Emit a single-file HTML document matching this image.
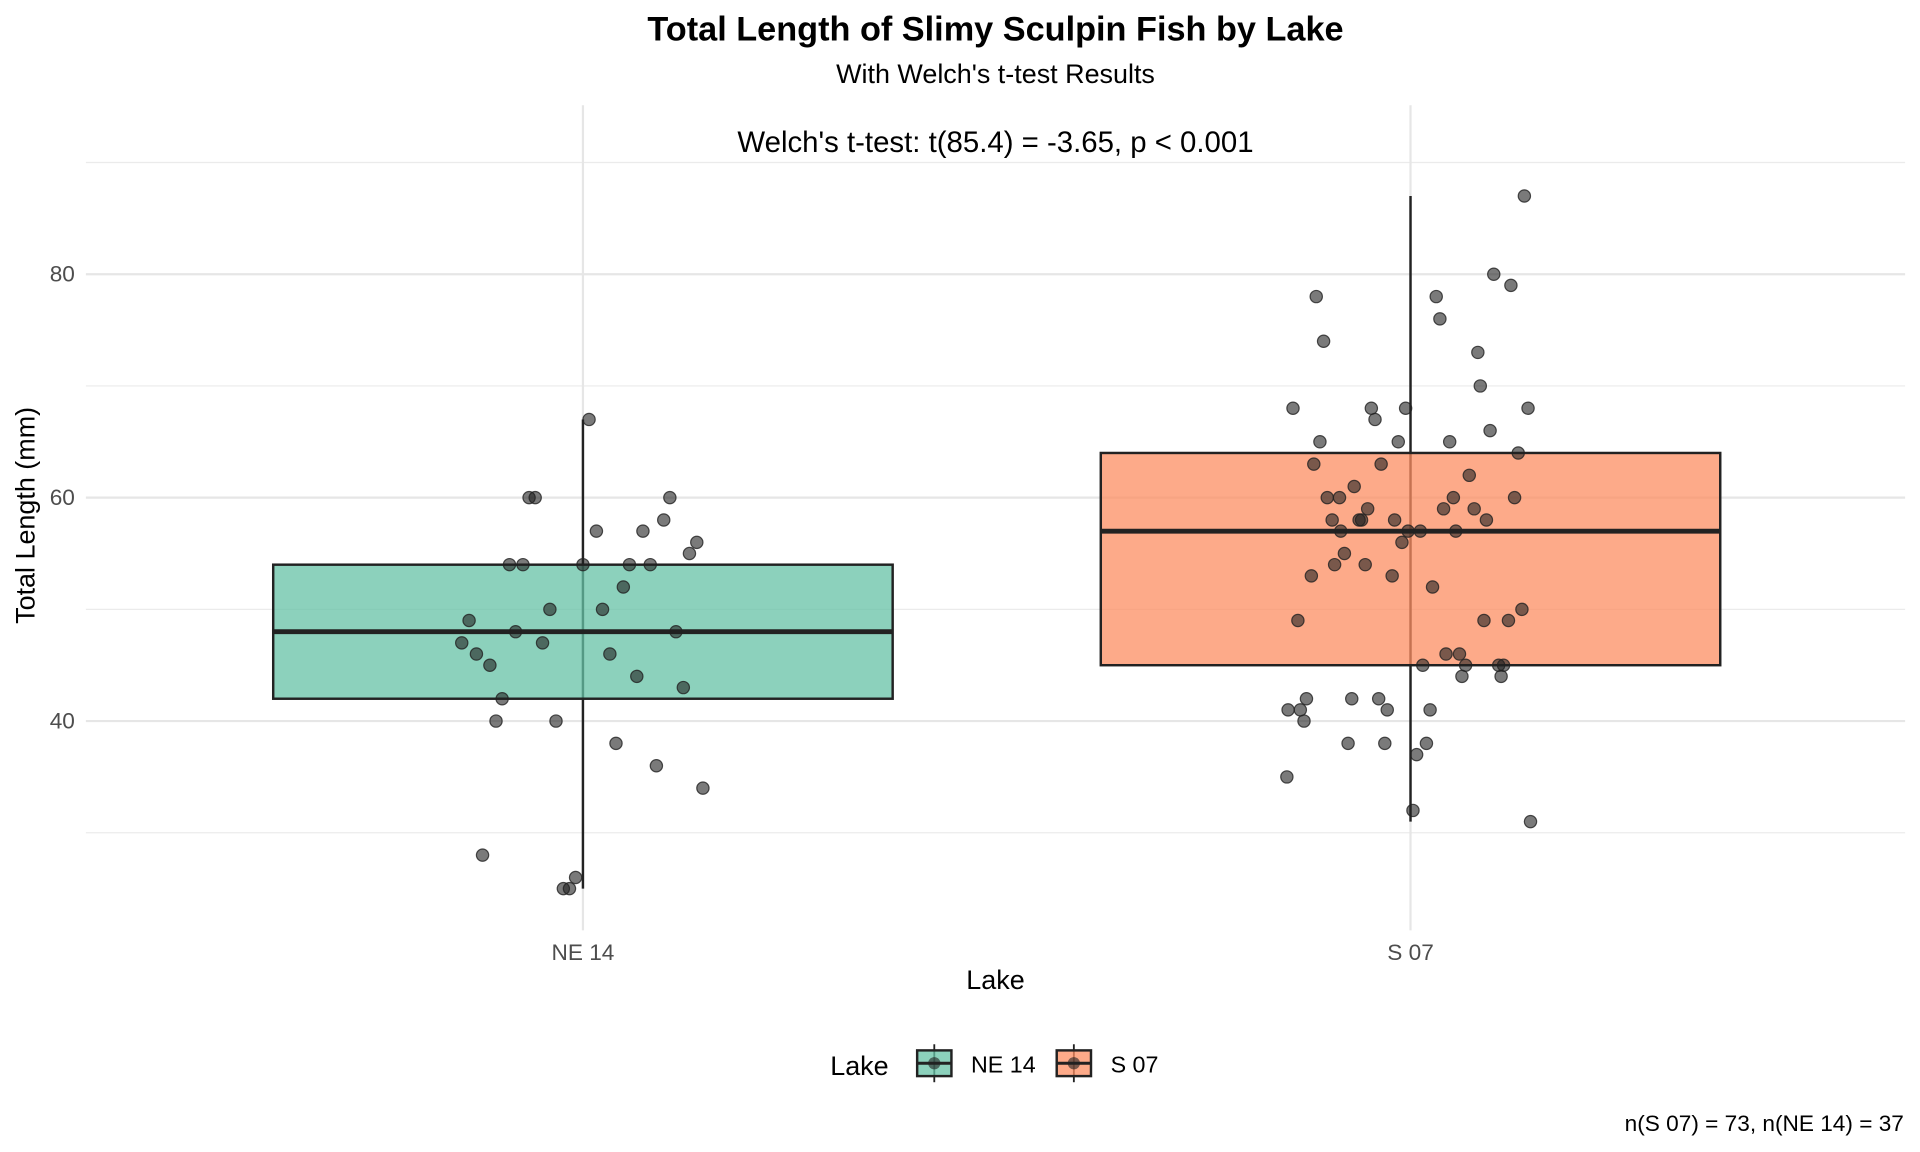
<!DOCTYPE html>
<html><head><meta charset="utf-8"><style>
html,body{margin:0;padding:0;background:#fff;}
svg{display:block;font-family:"Liberation Sans",Arial,sans-serif;}
</style></head><body>
<svg id="chart" width="1920" height="1152" viewBox="0 0 1568 941" xmlns="http://www.w3.org/2000/svg">
<g id="grid"></g>
<g id="boxes"></g>
<g id="points"></g>
<g id="axes"></g>
<text x="813" y="33" font-size="28" font-weight="bold" text-anchor="middle">Total Length of Slimy Sculpin Fish by Lake</text>
<text x="813" y="68" font-size="22" text-anchor="middle">With Welch's t-test Results</text>
<text x="813" y="124" font-size="24" text-anchor="middle">Welch's t-test: t(85.4) = -3.65, p &lt; 0.001</text>
<text transform="translate(28,421) rotate(-90)" font-size="22" text-anchor="middle">Total Length (mm)</text>
<text x="813" y="808" font-size="22" text-anchor="middle">Lake</text>
<g>
<text x="678" y="878" font-size="22">Lake</text>
<g>
<line x1="763" y1="853" x2="763" y2="884" stroke="#222" stroke-width="1.5"/>
<rect x="749" y="858" width="28" height="21" fill="#66c2a5" fill-opacity="0.75" stroke="#222" stroke-width="2"/>
<line x1="749" y1="868.5" x2="777" y2="868.5" stroke="#222" stroke-width="2.5"/>
<circle cx="763" cy="868.5" r="5" fill="#222" fill-opacity="0.6"/>
<text x="793" y="876" font-size="19">NE 14</text></g>
<g>
<line x1="877" y1="853" x2="877" y2="884" stroke="#222" stroke-width="1.5"/>
<rect x="863" y="858" width="28" height="21" fill="#fc8d62" fill-opacity="0.75" stroke="#222" stroke-width="2"/>
<line x1="863" y1="868.5" x2="891" y2="868.5" stroke="#222" stroke-width="2.5"/>
<circle cx="877" cy="868.5" r="5" fill="#222" fill-opacity="0.6"/>
<text x="907" y="876" font-size="19">S 07</text></g>
</g>
<text x="1555" y="924" font-size="18.5" text-anchor="end">n(S 07) = 73, n(NE 14) = 37</text>
</svg>
<script>
const lakes = ["NE 14", "S 07"];
const colors = ["#66c2a5", "#fc8d62"];
const q1 = [42, 45];
const median = [48, 57];
const q3 = [54, 64];
const whiskerLow = [25, 31];
const whiskerHigh = [67, 87];
const yTicks = [40, 60, 80];
const yMinor = [30, 50, 70, 90];
const ne14Values = [67,60,60,60,57,57,58,56,55,54,54,54,54,54,52,50,50,49,48,48,47,47,46,46,45,44,43,42,40,40,38,36,34,28,26,25,25];
const ne14Jitter = [5,-44,-39,71,11,49,66,93,87,-60,-49,0,38,55,33,-27,16,-93,-55,76,-99,-33,-87,22,-76,44,82,-66,-71,-22,27,60,98,-82,-6,-16,-11];
const s07Values = [87,80,79,78,78,76,74,73,70,68,68,68,68,67,66,65,65,65,64,63,63,62,61,60,60,60,60,59,59,59,58,58,58,58,58,57,57,57,57,56,55,54,54,53,53,52,49,49,49,50,45,45,45,45,46,46,44,44,42,42,42,41,41,41,41,40,38,38,38,37,35,32,31];
const s07Jitter = [93,68,82,-77,21,24,-71,55,57,-96,-32,-4,96,-29,65,-74,-10,32,88,-79,-24,48,-46,-68,-58,35,85,-35,27,52,-64,-42,-40,-13,62,-57,-2,8,37,-7,-54,-62,-37,-81,-15,18,-92,60,80,91,10,45,72,76,29,40,42,74,-85,-48,-26,-100,-90,-19,16,-87,-51,-21,13,5,-101,2,98];
const SVGNS = "http://www.w3.org/2000/svg";
const xPos = [476, 1152];
const boxHalf = 253;
function y(v){ return 224 + (80 - v) * 9.125; }
function mk(tag, attrs, parent){ const e=document.createElementNS(SVGNS,tag); for(const k in attrs) e.setAttribute(k,attrs[k]); parent.appendChild(e); return e; }
const grid=document.getElementById('grid'), boxes=document.getElementById('boxes'), pts=document.getElementById('points'), axes=document.getElementById('axes');
yMinor.forEach(v=>{ const l=mk('line',{x1:70,x2:1556,y1:y(v),y2:y(v),stroke:'#ebebeb','stroke-width':1},grid);

 });
yTicks.forEach(v=>{ const l=mk('line',{x1:70,x2:1556,y1:y(v),y2:y(v),stroke:'#e6e6e6','stroke-width':1.8},grid);


const t=mk('text',{x:61,y:y(v)+6,'font-size':18.5,'text-anchor':'end',fill:'#4d4d4d'},axes); t.textContent=v;

 });
lakes.forEach((n,i)=>{ const l=mk('line',{x1:xPos[i],x2:xPos[i],y1:86,y2:760,stroke:'#e6e6e6','stroke-width':1.8},grid);


const t=mk('text',{x:xPos[i],y:784,'font-size':18.5,'text-anchor':'middle',fill:'#4d4d4d'},axes); t.textContent=n;


const w=mk('line',{x1:xPos[i],x2:xPos[i],y1:y(whiskerLow[i]),y2:y(whiskerHigh[i]),stroke:'#222','stroke-width':2},boxes);


const r=mk('rect',{x:xPos[i]-boxHalf,y:y(q3[i]),width:boxHalf*2,height:y(q1[i])-y(q3[i]),fill:colors[i],'fill-opacity':0.75,stroke:'#222','stroke-width':2},boxes);


const m=mk('line',{x1:xPos[i]-boxHalf,x2:xPos[i]+boxHalf,y1:y(median[i]),y2:y(median[i]),stroke:'#222','stroke-width':4},boxes);

 });
[[ne14Values,ne14Jitter,0],[s07Values,s07Jitter,1]].forEach(([vals,jit,i])=>{
vals.forEach((v,k)=>{ const c=mk('circle',{cx:xPos[i]+jit[k],cy:y(v),r:5,fill:'#222','fill-opacity':0.6,stroke:'#222','stroke-opacity':0.8,'stroke-width':1},pts);

 }); });
</script>
</body></html>
